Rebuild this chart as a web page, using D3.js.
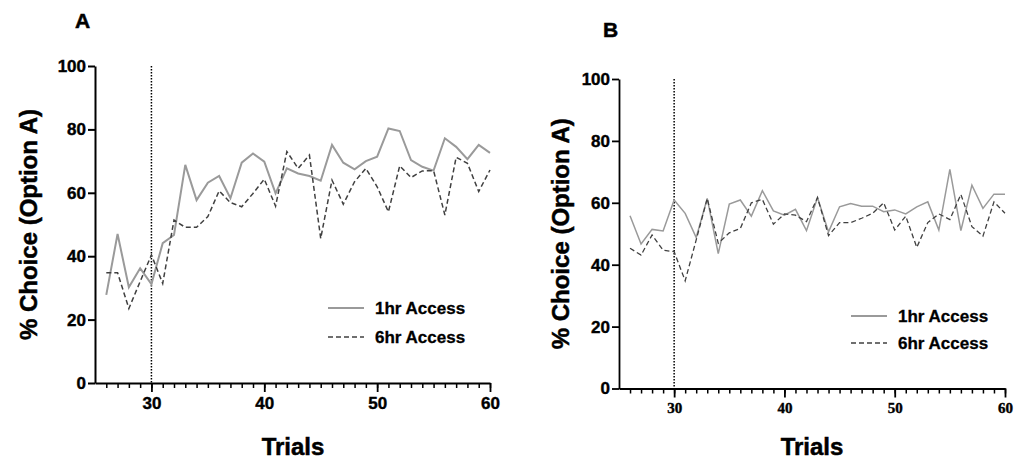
<!DOCTYPE html>
<html lang="en">
<head>
<meta charset="UTF-8">
<title>Choice by trial</title>
<style>
  body { margin: 0; background: #fff; }
  svg { display: block; }
  text { font-family: "Liberation Sans", Arial, sans-serif; font-weight: bold; fill: #000; stroke: #000; stroke-width: 0.5px; }
  .axis path, .axis line { stroke: #000; }
  .axis text { font-family: "Liberation Sans", Arial, sans-serif; font-weight: bold; fill: #000; stroke: #000; stroke-width: 0.4px; }
</style>
</head>
<body>
<svg width="1016" height="461"></svg>
<script src="https://d3js.org/d3.v7.min.js"></script>
<script>
// trials shown on the x axis
const trials = [26, 27, 28, 29, 30, 31, 32, 33, 34, 35, 36, 37, 38, 39, 40, 41, 42, 43,
                44, 45, 46, 47, 48, 49, 50, 51, 52, 53, 54, 55, 56, 57, 58, 59, 60];
const majorTicks = [30, 40, 50, 60];
const yTicks = [0, 20, 40, 60, 80, 100];
const seriesNames = ["1hr Access", "6hr Access"];
const switchTrial = 30;

// panel A
const a1hr = [27.8, 47.0, 30.2, 36.2, 31.2, 44.1, 46.7, 68.8, 57.7, 63.2, 65.3, 58.3, 69.5, 72.4, 69.8, 59.8, 67.7, 66.1,
              65.3, 63.8, 75.1, 69.5, 67.4, 70.0, 71.4, 80.3, 79.5, 70.3, 68.2, 67.0, 77.2, 74.5, 70.6, 75.1, 72.6];
const a6hr = [34.8, 34.8, 23.5, 32.0, 40.4, 31.4, 51.4, 49.1, 49.1, 52.5, 60.6, 56.9, 55.6, 59.8, 64.3, 55.8, 73.0, 67.7,
              71.9, 45.6, 64.0, 56.4, 63.5, 67.7, 61.9, 54.0, 68.5, 64.8, 66.9, 67.0, 53.0, 71.2, 69.3, 60.4, 67.2];

// panel B
const b1hr = [55.8, 46.7, 51.4, 50.9, 60.9, 56.6, 48.8, 61.4, 43.6, 59.6, 60.9, 55.7, 63.9, 57.4, 56.0, 57.9, 51.0, 61.7,
              50.6, 58.7, 59.8, 58.9, 58.9, 57.1, 57.7, 56.4, 58.7, 60.3, 51.2, 70.8, 51.0, 65.7, 58.2, 62.8, 62.8];
const b6hr = [45.3, 43.1, 49.6, 44.7, 44.2, 34.8, 48.0, 61.4, 46.9, 50.3, 51.7, 60.0, 61.1, 53.1, 56.4, 56.0, 53.9, 61.7,
              49.4, 53.6, 53.6, 55.0, 56.6, 60.0, 51.2, 55.7, 45.6, 53.6, 56.4, 54.6, 62.7, 52.3, 49.2, 60.3, 56.6];

const svg = d3.select("svg");

const panels = [
  {
    label: "A", series: [a1hr, a6hr],
    left: 95, right: 490, top: 66, bottom: 383,
    labelX: 75, labelY: 28, yTitleX: 37, trialsX: 293,
    axisW: 2, w1: 2, w6: 1.5, xTickFont: "17px", xTickFamily: "Liberation Sans",
    legX: 328, legY: 308, legGap: 29
  },
  {
    label: "B", series: [b1hr, b6hr],
    left: 619, right: 1005, top: 79, bottom: 388.5,
    labelX: 603, labelY: 37, yTitleX: 569, trialsX: 812,
    axisW: 1.8, w1: 1.5, w6: 1.3, xTickFont: "15px", xTickFamily: "Liberation Serif",
    legX: 851, legY: 316, legGap: 27
  }
];

panels.forEach(p => {
  const x = d3.scaleLinear().domain([25, 60]).range([p.left, p.right]);
  const y = d3.scaleLinear().domain([0, 100]).range([p.bottom, p.top]);
  const g = svg.append("g");

  // y axis
  const yAxis = g.append("g")
      .attr("class", "axis")
      .attr("transform", "translate(" + p.left + ",0)")
      .call(d3.axisLeft(y).tickValues(yTicks).tickSize(7).tickSizeOuter(0).tickPadding(2));
  yAxis.selectAll("path, line").attr("stroke-width", p.axisW);
  yAxis.selectAll("text").style("font-size", "17px");

  // x axis: minor ticks at every trial, major ticks labelled
  const xMinor = g.append("g")
      .attr("class", "axis")
      .attr("transform", "translate(0," + p.bottom + ")")
      .call(d3.axisBottom(x).tickValues(trials).tickSize(5).tickSizeOuter(0).tickFormat(""));
  xMinor.selectAll("path").attr("stroke-width", p.axisW);
  xMinor.selectAll("line").attr("stroke-width", 1.5);

  const xMajor = g.append("g")
      .attr("class", "axis")
      .attr("transform", "translate(0," + p.bottom + ")")
      .call(d3.axisBottom(x).tickValues(majorTicks).tickSize(9).tickSizeOuter(0).tickPadding(5));
  xMajor.select("path").remove();
  xMajor.selectAll("line").attr("stroke-width", 1.8);
  xMajor.selectAll("text")
      .style("font-size", p.xTickFont)
      .style("font-family", p.xTickFamily);

  // dotted line at the switch trial
  g.append("line")
      .attr("x1", x(switchTrial)).attr("x2", x(switchTrial))
      .attr("y1", y(100)).attr("y2", y(0))
      .attr("stroke", "#000")
      .attr("stroke-width", 1.5)
      .attr("stroke-dasharray", "1.5,1.5");

  const line = d3.line()
      .x((d, i) => x(trials[i]))
      .y(d => y(d));

  g.append("path")
      .datum(p.series[0])
      .attr("d", line)
      .attr("fill", "none")
      .attr("stroke", "#9a9a9a")
      .attr("stroke-width", p.w1)
      .attr("stroke-linejoin", "miter");

  g.append("path")
      .datum(p.series[1])
      .attr("d", line)
      .attr("fill", "none")
      .attr("stroke", "#404040")
      .attr("stroke-width", p.w6)
      .attr("stroke-dasharray", "5,3");

  // legend
  seriesNames.forEach((name, i) => {
    const ly = p.legY + i * p.legGap;
    g.append("line")
        .attr("x1", p.legX).attr("x2", p.legX + 36)
        .attr("y1", ly).attr("y2", ly)
        .attr("stroke", i === 0 ? "#9a9a9a" : "#404040")
        .attr("stroke-width", i === 0 ? 1.8 : 1.4)
        .attr("stroke-dasharray", i === 0 ? null : "5,3");
    g.append("text")
        .attr("x", p.legX + 47)
        .attr("y", ly + 6)
        .style("font-size", "17px")
        .style("stroke-width", "0.3px")
        .text(name);
  });

  // panel letter
  g.append("text")
      .attr("x", p.labelX)
      .attr("y", p.labelY)
      .style("font-size", "21px")
      .text(p.label);

  // axis titles
  g.append("text")
      .attr("transform", "translate(" + p.yTitleX + "," + ((p.top + p.bottom) / 2) + ") rotate(-90)")
      .attr("text-anchor", "middle")
      .style("font-size", "24px")
      .text("% Choice (Option A)");

  g.append("text")
      .attr("x", p.trialsX)
      .attr("y", 455)
      .attr("text-anchor", "middle")
      .style("font-size", "24px")
      .text("Trials");
});
</script>
</body>
</html>
